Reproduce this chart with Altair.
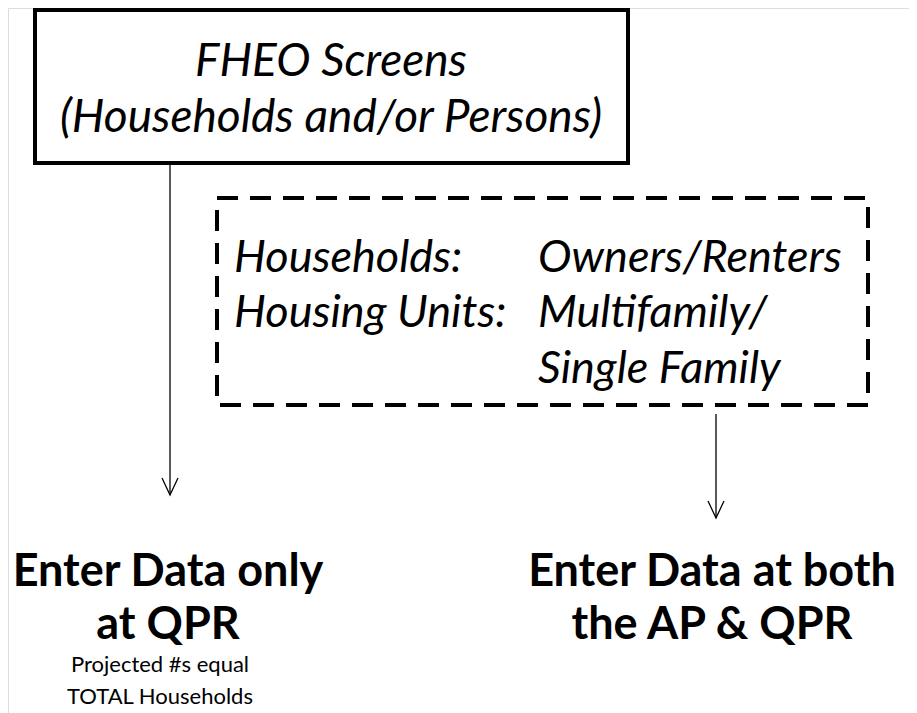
import altair as alt
import pandas as pd

# ---- diagram content ----
top_box_lines = ["FHEO Screens", "(Households and/or Persons)"]
dashed_left_labels = ["Households:", "Housing Units:"]
dashed_right_labels = ["Owners/Renters", "Multifamily/", "Single Family"]
left_outcome = ["Enter Data only", "at QPR"]
left_note = ["Projected #s equal", "TOTAL Households"]
right_outcome = ["Enter Data at both", "the AP & QPR"]

# ---- layout (pixel coordinates of the page) ----
W, H = 901, 705
xs = alt.Scale(domain=[8, 8 + W], nice=False, zero=False)
ys = alt.Scale(domain=[8, 8 + H], nice=False, zero=False, reverse=True)
X = lambda f="x": alt.X(f"{f}:Q", scale=xs, axis=None)
Y = lambda f="y": alt.Y(f"{f}:Q", scale=ys, axis=None)

FONT = "Lato"

boxes = pd.DataFrame([{"x": 35, "x2": 628, "y": 10, "y2": 163}])
dbox = pd.DataFrame([{"x": 217, "x2": 868, "y": 198, "y2": 405}])

solid_box = alt.Chart(boxes).mark_rect(fill=None, stroke="black", strokeWidth=4).encode(
    x=X(), x2="x2:Q", y=Y(), y2="y2:Q")
dash_box = alt.Chart(dbox).mark_rect(fill=None, stroke="black", strokeWidth=4,
                                      strokeDash=[21, 12]).encode(
    x=X(), x2="x2:Q", y=Y(), y2="y2:Q")

# arrows: shafts and heads
shafts = pd.DataFrame([
    {"x": 170, "y": 163, "y2": 495},
    {"x": 716, "y": 414, "y2": 518},
])
shaft = alt.Chart(shafts).mark_rule(stroke="black", strokeWidth=1.3).encode(
    x=X(), y=Y(), y2="y2:Q")
heads = pd.DataFrame([
    {"g": "a1", "o": 0, "x": 162, "y": 478},
    {"g": "a1", "o": 1, "x": 170, "y": 495},
    {"g": "a1", "o": 2, "x": 178, "y": 478},
    {"g": "a2", "o": 0, "x": 708, "y": 501},
    {"g": "a2", "o": 1, "x": 716, "y": 518},
    {"g": "a2", "o": 2, "x": 724, "y": 501},
])
head = alt.Chart(heads).mark_line(stroke="black", strokeWidth=1.3).encode(
    x=X(), y=Y(), detail="g:N", order="o:Q")

def text_layer(lines, xpos, ypos, size, italic=False, bold=False, align="center"):
    df = pd.DataFrame({"t": lines, "x": xpos, "y": ypos})
    return alt.Chart(df).mark_text(
        font=FONT, fontSize=size, align=align, baseline="middle",
        fontStyle="italic" if italic else "normal",
        fontWeight="bold" if bold else "normal", color="black",
    ).encode(x=X(), y=Y(), text="t:N")

t_top = text_layer(top_box_lines, [331, 331], [62, 118], 46, italic=True)
t_dl = text_layer(dashed_left_labels, [234, 234], [258, 313], 45, italic=True, align="left")
t_dr = text_layer(dashed_right_labels, [538, 538, 538], [258, 313, 369], 45, italic=True, align="left")
t_lo = text_layer(left_outcome, [168, 168], [572, 625], 45, bold=True)
t_ro = text_layer(right_outcome, [712, 712], [572, 625], 45, bold=True)
t_note = text_layer(left_note, [160, 160], [665, 697], 22)

chart = alt.layer(solid_box, dash_box, shaft, head, t_top, t_dl, t_dr, t_lo, t_ro, t_note).properties(
    width=W, height=H, padding=0, autosize=alt.AutoSizeParams(type="none")
).configure_view(stroke=None).configure(background="white")

chart.save("out.html", embed_options={"renderer": "svg", "actions": False})
